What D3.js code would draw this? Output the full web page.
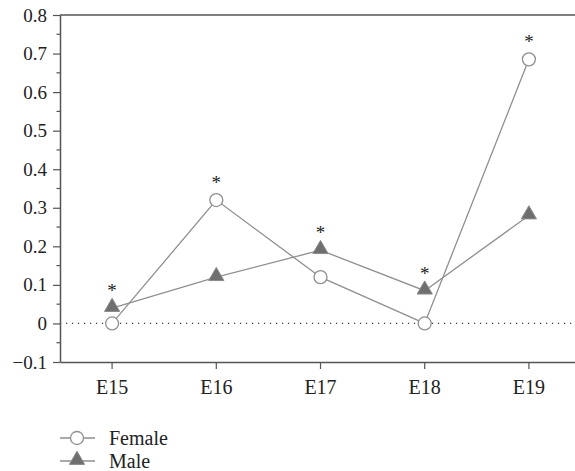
<!DOCTYPE html>
<html>
<head>
<meta charset="utf-8">
<script src="https://cdnjs.cloudflare.com/ajax/libs/d3/7.8.5/d3.min.js"></script>
<style>
  body { margin: 0; background: #fff; }
  svg, svg text { font-family: 'Liberation Serif', serif; }
</style>
</head>
<body>
<div class="chart"></div>
<script>
// data
var categories = ['E15', 'E16', 'E17', 'E18', 'E19'];
var femaleValues = [0, 0.32, 0.12, 0, 0.685];
var maleValues = [0.04, 0.12, 0.19, 0.085, 0.28];
// which series carries the significance star at each category
var starOn = ['Male', 'Female', 'Male', 'Male', 'Female'];
var yTicks = [-0.1, 0, 0.1, 0.2, 0.3, 0.4, 0.5, 0.6, 0.7, 0.8];
var yMinorTicks = [-0.05, 0.05, 0.15, 0.25, 0.35, 0.45, 0.55, 0.65, 0.75];

var fullWidth = 575;
var fullHeight = 471;
var margin = { top: 15, left: 60, bottom: 109 };
var plotBottom = fullHeight - margin.bottom;

var lineColor = '#8f8f8f';
var axisColor = '#555';
var serif = 'Liberation Serif';

var triangle = d3.symbol().type(d3.symbolTriangle).size(100);

var svg = d3.select('.chart')
  .append('svg')
  .attr('width', fullWidth)
  .attr('height', fullHeight)
  .attr('font-family', serif);

var xScale = d3.scaleBand()
  .domain(categories)
  .range([margin.left, 581])
  .padding(0);

var xPos = c => xScale(c) + xScale.bandwidth() / 2;

var yScale = d3.scaleLinear()
  .domain([-0.1, 0.8])
  .range([plotBottom, margin.top]);

// top frame line
svg.append('line')
  .attr('x1', margin.left)
  .attr('x2', fullWidth)
  .attr('y1', yScale(0.8))
  .attr('y2', yScale(0.8))
  .style('stroke', axisColor)
  .style('stroke-width', 1.5);

// zero reference line (dotted)
svg.append('line')
  .attr('x1', margin.left)
  .attr('x2', fullWidth)
  .attr('y1', yScale(0))
  .attr('y2', yScale(0))
  .style('stroke', '#444')
  .style('stroke-width', 1.2)
  .style('stroke-dasharray', '1.2,4.8');

// y axis
var yAxis = svg.append('g')
  .attr('transform', `translate(${margin.left},0)`)
  .call(d3.axisLeft(yScale)
    .tickValues(yTicks)
    .tickSize(7)
    .tickSizeOuter(0)
    .tickPadding(6)
    .tickFormat(d => d < 0 ? '\u22120.1' : (d === 0 ? '0' : d3.format('.1f')(d))));

// minor ticks
svg.append('g')
  .selectAll('line')
  .data(yMinorTicks)
  .enter()
  .append('line')
  .attr('x1', margin.left - 3.5)
  .attr('x2', margin.left)
  .attr('y1', d => yScale(d))
  .attr('y2', d => yScale(d))
  .style('stroke', axisColor)
  .style('stroke-width', 1.2);

// x axis
var xAxis = svg.append('g')
  .attr('transform', `translate(0,${plotBottom})`)
  .call(d3.axisBottom(xScale)
    .tickSize(7)
    .tickSizeOuter(0)
    .tickPadding(11));

[yAxis, xAxis].forEach(ax => {
  ax.attr('font-family', serif);
  ax.select('.domain').style('stroke', axisColor).style('stroke-width', 1.5);
  ax.selectAll('.tick line').style('stroke', axisColor).style('stroke-width', 1.2);
  ax.selectAll('text').style('fill', '#222');
});
yAxis.attr('font-size', 19);
xAxis.attr('font-size', 20);

var femaleData = categories.map((c, i) => ({ cat: c, value: femaleValues[i] }));
var maleData = categories.map((c, i) => ({ cat: c, value: maleValues[i] }));

var line = d3.line()
  .x(d => xPos(d.cat))
  .y(d => yScale(d.value));

drawSeries(maleData, 'male');
drawSeries(femaleData, 'female');

drawTriangles(maleData);
drawCircles(femaleData);

// significance stars
svg.selectAll('.star')
  .data(categories)
  .enter()
  .append('text')
  .attr('class', 'star')
  .attr('x', c => xPos(c))
  .attr('y', (c, i) => yScale(starOn[i] === 'Male' ? maleValues[i] : femaleValues[i]) - 11)
  .attr('font-size', 19)
  .style('text-anchor', 'middle')
  .style('fill', '#222')
  .text('*');

// legend
drawLegendItem('circle', 'Female', 60, 438);
drawLegendItem('triangle', 'Male', 60, 461);

function drawSeries(data, className) {
  svg.append('path')
    .datum(data)
    .attr('class', className)
    .attr('d', line)
    .style('stroke', lineColor)
    .style('stroke-width', 1.3)
    .style('fill', 'none');
}

function drawCircles(data) {
  svg.selectAll('.fdot')
    .data(data)
    .enter()
    .append('circle')
    .attr('class', 'fdot')
    .attr('cx', d => xPos(d.cat))
    .attr('cy', d => yScale(d.value))
    .attr('r', 6.5)
    .style('fill', '#fff')
    .style('stroke', lineColor)
    .style('stroke-width', 1.3);
}

function drawTriangles(data) {
  svg.selectAll('.mdot')
    .data(data)
    .enter()
    .append('path')
    .attr('class', 'mdot')
    .attr('d', triangle)
    .attr('transform', d => `translate(${xPos(d.cat)},${yScale(d.value) - 1})`)
    .style('fill', '#6f6f6f')
    .style('stroke', '#8a8a8a')
    .style('stroke-width', 1);
}

function drawLegendItem(kind, text, x, y) {
  svg.append('line')
    .attr('x1', x)
    .attr('x2', x + 35)
    .attr('y1', y)
    .attr('y2', y)
    .style('stroke', lineColor)
    .style('stroke-width', 1.3);

  if (kind === 'circle') {
    svg.append('circle')
      .attr('cx', x + 17)
      .attr('cy', y)
      .attr('r', 6.5)
      .style('fill', '#fff')
      .style('stroke', lineColor)
      .style('stroke-width', 1.3);
  } else {
    svg.append('path')
      .attr('d', triangle)
      .attr('transform', `translate(${x + 17},${y - 1})`)
      .style('fill', '#6f6f6f')
      .style('stroke', '#8a8a8a')
      .style('stroke-width', 1);
  }

  svg.append('text')
    .attr('x', x + 49)
    .attr('y', y)
    .attr('dy', '0.35em')
    .attr('font-size', 20)
    .style('fill', '#222')
    .text(text);
}
</script>
</body>
</html>
